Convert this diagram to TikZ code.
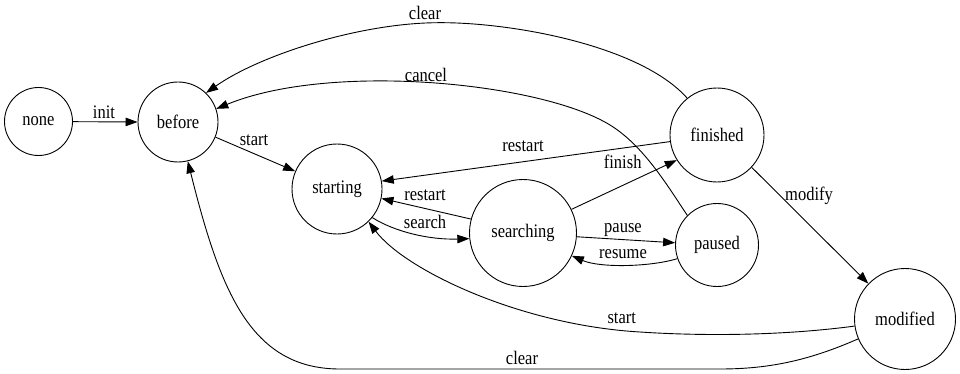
\documentclass[tikz,border=0pt]{standalone}
\usepackage{fontspec}
\setmainfont{Liberation Serif}
\usetikzlibrary{arrows.meta}
\newcommand{\tallt}[1]{\scalebox{1}[1.16]{#1}}
\begin{document}
\begin{tikzpicture}[x=1pt,y=-1pt,
  state/.style={draw, circle, line width=0.9pt, inner sep=0pt, font=\fontsize{16.5}{18}\selectfont},
  edge/.style={draw, line width=0.9pt, -{Triangle[length=12pt,width=8.5pt]}},
  lbl/.style={inner sep=0pt, font=\fontsize{16.5}{18}\selectfont}]
\useasboundingbox (0,0) rectangle (960,374);
% states
\node[state, minimum size=68pt]  (none)      at (38.5,121.5) {\tallt{none}};
\node[state, minimum size=80pt]  (before)    at (178,122)    {\tallt{before}};
\node[state, minimum size=90pt]  (starting)  at (337,189)    {\tallt{starting}};
\node[state, minimum size=107pt] (searching) at (523,233)    {\tallt{searching}};
\node[state, minimum size=94pt]  (finished)  at (717,135)    {\tallt{finished}};
\node[state, minimum size=83pt]  (paused)    at (717,245)    {\tallt{paused}};
\node[state, minimum size=101pt] (modified)  at (905,319)    {\tallt{modified}};
% edges
\draw[edge] (none) -- (before.180);
\draw[edge] (before.-22.8) -- (starting.157.6);
\draw[edge] (finished.129.5) .. controls (640,45) and (510,22) .. (438,22.7)
            .. controls (360,23) and (260,55) .. (before.46.8);
\draw[edge] (paused.135) .. controls (670,190) and (645,146.5) .. (610,125)
            .. controls (540,82) and (330,62) .. (before.19.4);
\draw[edge] (finished.188.1) -- (starting.10.5);
\draw[edge] (searching.165) -- (starting.-12.5);
\draw[edge] (starting.-39) .. controls (395,232) and (430,240) .. (searching.186.5);
\draw[edge] (searching.26.6) -- (finished.212.4);
\draw[edge] (searching.-4) -- (paused.177.6);
\draw[edge] (paused.199) .. controls (650,267) and (600,268) .. (searching.-25);
\draw[edge] (finished.-43.8) -- (modified.136);
\draw[edge] (modified.188.8) .. controls (780,336) and (700,336) .. (640,332)
            .. controls (520,325) and (405,270) .. (starting.-46);
\draw[edge] (modified.203.4) .. controls (810,360) and (770,369) .. (720,369)
            -- (340,369) .. controls (250,369) and (220,290) .. (before.-76);
% labels
\node[lbl] (l-init)     at (104,112.7)  {\tallt{init}};
\node[lbl] (l-start1)   at (254,140.7)  {\tallt{start}};
\node[lbl] (l-clear1)   at (425,12.7)   {\tallt{clear}};
\node[lbl] (l-cancel)   at (426,75)     {\tallt{cancel}};
\node[lbl] (l-restart1) at (523,146.7)  {\tallt{restart}};
\node[lbl] (l-finish)   at (622.7,161.7){\tallt{finish}};
\node[lbl] (l-restart2) at (425,195)    {\tallt{restart}};
\node[lbl] (l-search)   at (425,222)    {\tallt{search}};
\node[lbl] (l-pause)    at (623,230)    {\tallt{pause}};
\node[lbl] (l-resume)   at (623,254)    {\tallt{resume}};
\node[lbl] (l-modify)   at (809,196)    {\tallt{modify}};
\node[lbl] (l-start2)   at (621.7,318.3){\tallt{start}};
\node[lbl] (l-clear2)   at (522,358)    {\tallt{clear}};
\end{tikzpicture}
\end{document}
